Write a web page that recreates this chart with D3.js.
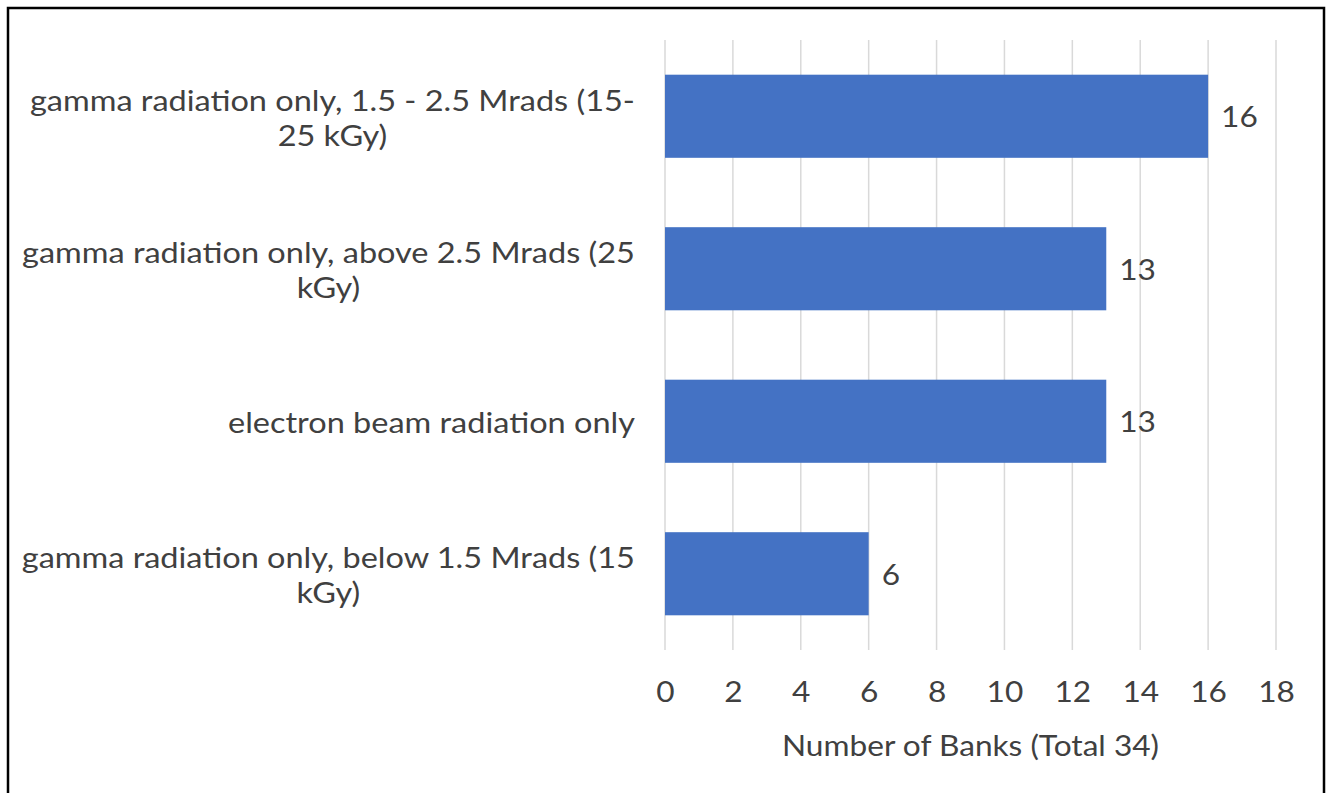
<!DOCTYPE html>
<html>
<head>
<meta charset="utf-8">
<script src="https://cdn.jsdelivr.net/npm/d3@7"></script>
<style>
  body { margin: 0; background: #fff; }
  text { font-family: Lato, "Open Sans", sans-serif; fill: #404040; }
</style>
</head>
<body>
<svg width="1330" height="793"></svg>
<script>
// data
var categories = [
  ["gamma radiation only, 1.5 - 2.5 Mrads (15-", "25 kGy)"],
  ["gamma radiation only, above 2.5 Mrads (25", "kGy)"],
  ["electron beam radiation only"],
  ["gamma radiation only, below 1.5 Mrads (15", "kGy)"]
];
var values = [16, 13, 13, 6];
var xTicks = [0, 2, 4, 6, 8, 10, 12, 14, 16, 18];
var xTitle = "Number of Banks (Total 34)";

var svg = d3.select("svg");
var fontSize = 28;
var sx = 1.13; // the reference text is a little wider than Lato, stretch it
var sxCat = 1.16;

// frame round the picture
svg.append("rect")
  .attr("x", 8).attr("y", 8)
  .attr("width", 1316).attr("height", 800)
  .attr("fill", "none")
  .attr("stroke", "#000")
  .attr("stroke-width", 2.5);

var pLeft = 665, pRight = 1276, pTop = 40, pBottom = 650;

var x = d3.scaleLinear().domain([0, 18]).range([pLeft, pRight]);
var y = d3.scaleBand().domain(d3.range(categories.length)).range([pTop, pBottom]).paddingInner(0.455).paddingOuter(0.2275);

function place(px, py, s) {
  return "translate(" + px + "," + py + ") scale(" + (s || sx) + ",1)";
}

// gridlines
svg.append("g").selectAll("line")
  .data(xTicks)
  .enter()
  .append("line")
  .attr("x1", function(d){ return x(d); })
  .attr("x2", function(d){ return x(d); })
  .attr("y1", pTop)
  .attr("y2", pBottom)
  .attr("stroke", "#d9d9d9")
  .attr("stroke-width", 1.5);

// bars
svg.append("g").selectAll("rect")
  .data(values)
  .enter()
  .append("rect")
  .attr("x", x(0))
  .attr("y", function(d, i){ return y(i); })
  .attr("width", function(d){ return x(d) - x(0); })
  .attr("height", y.bandwidth())
  .attr("fill", "#4472c4");

// value labels
svg.append("g").selectAll("text")
  .data(values)
  .enter()
  .append("text")
  .attr("transform", function(d, i){ return place(x(d) + 13, y(i) + y.bandwidth() / 2 + 1); })
  .attr("dy", "0.35em")
  .style("font-size", fontSize + "px")
  .text(function(d){ return d; });

// x axis tick labels
var xAxis = d3.axisBottom(x).tickValues(xTicks).tickSize(0).tickPadding(0);
var gx = svg.append("g")
  .attr("transform", "translate(0," + 692 + ")")
  .call(xAxis);
gx.select(".domain").remove();
gx.selectAll("text")
  .attr("y", 0)
  .attr("dy", "0.35em")
  .attr("fill", "#404040")
  .attr("transform", "scale(" + sx + ",1)")
  .style("font-family", "Lato, 'Open Sans', sans-serif")
  .style("font-size", fontSize + "px");

// axis title
svg.append("text")
  .attr("transform", place((pLeft + pRight) / 2, 746))
  .attr("dy", "0.35em")
  .attr("text-anchor", "middle")
  .style("font-size", fontSize + "px")
  .text(xTitle);

// category labels: block right aligned, lines centred inside it
var labelRight = 635, lineH = 35;
categories.forEach(function(lines, i){
  var g = svg.append("g");
  var cy = y(i) + y.bandwidth() / 2 + 2;
  var t = g.selectAll("text")
    .data(lines)
    .enter()
    .append("text")
    .attr("text-anchor", "middle")
    .attr("dy", "0.35em")
    .style("font-size", fontSize + "px")
    .text(function(d){ return d; });
  var w = d3.max(t.nodes(), function(n){ return n.getComputedTextLength(); }) * sxCat;
  t.attr("transform", function(d, j){
    return place(labelRight - w / 2, cy + (j - (lines.length - 1) / 2) * lineH, sxCat);
  });
});
</script>
</body>
</html>
